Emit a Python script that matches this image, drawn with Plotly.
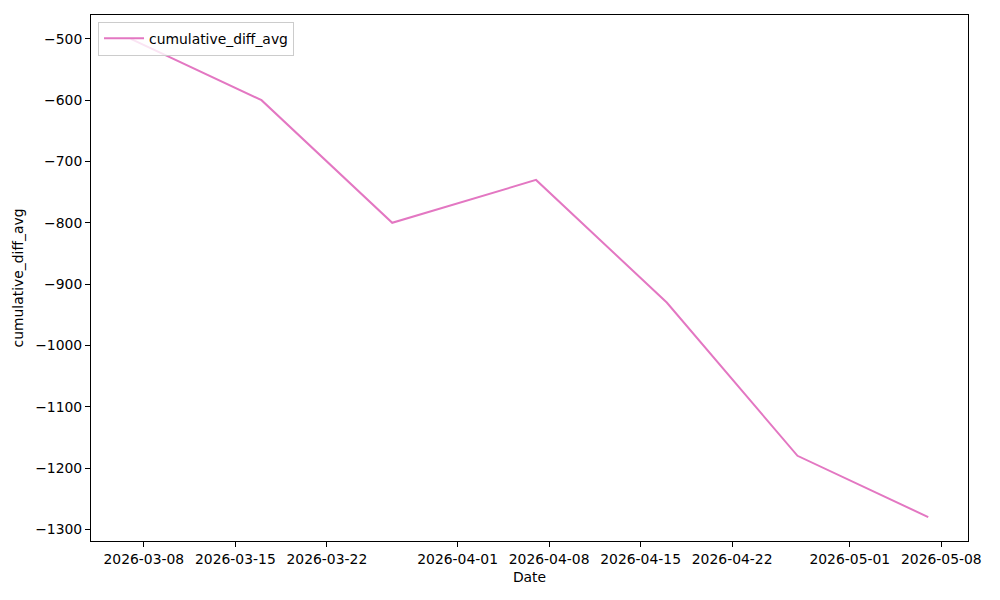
import plotly.graph_objects as go

dates = ["2026-03-07", "2026-03-17", "2026-03-27", "2026-04-07",
         "2026-04-17", "2026-04-27", "2026-05-07"]
cumulative_diff_avg = [-500, -600, -800, -730, -930, -1180, -1280]

x_tick_vals = ["2026-03-08", "2026-03-15", "2026-03-22", "2026-04-01", "2026-04-08",
               "2026-04-15", "2026-04-22", "2026-05-01", "2026-05-08"]
y_tick_vals = [-500, -600, -700, -800, -900, -1000, -1100, -1200, -1300]
y_tick_text = [("\u2212" + str(abs(v))) if v < 0 else str(v) for v in y_tick_vals]

font = "DejaVu Sans"
fs = 13.9

fig = go.Figure()
fig.add_trace(go.Scatter(
    x=dates, y=cumulative_diff_avg, mode="lines",
    name="cumulative_diff_avg",
    line=dict(color="#e377c2", width=2),
))

fig.update_layout(
    width=992, height=592,
    margin=dict(l=83, r=32, t=7, b=59),
    paper_bgcolor="white", plot_bgcolor="white",
    font=dict(family=font, size=fs, color="black"),
    showlegend=True,
    legend=dict(
        x=0.008, y=0.987, xanchor="left", yanchor="top",
        bordercolor="#cccccc", borderwidth=1,
        bgcolor="rgba(255,255,255,0.8)",
        font=dict(family=font, size=fs),
        itemwidth=40,
    ),
    xaxis=dict(
        type="date",
        range=["2026-03-03 23:00", "2026-05-10 01:00"],
        tickvals=x_tick_vals, ticktext=x_tick_vals,
        ticks="outside", ticklen=5, tickwidth=1, tickcolor="black",
        showline=True, linecolor="black", linewidth=1, mirror=True,
        showgrid=False, zeroline=False,
        title=dict(text="Date", font=dict(family=font, size=fs), standoff=6),
    ),
    yaxis=dict(
        range=[-1319, -461],
        tickvals=y_tick_vals, ticktext=y_tick_text,
        ticks="outside", ticklen=5, tickwidth=1, tickcolor="black",
        showline=True, linecolor="black", linewidth=1, mirror=True,
        showgrid=False, zeroline=False,
        title=dict(text="cumulative_diff_avg", font=dict(family=font, size=fs), standoff=8),
    ),
)

fig.write_html("out.html")
